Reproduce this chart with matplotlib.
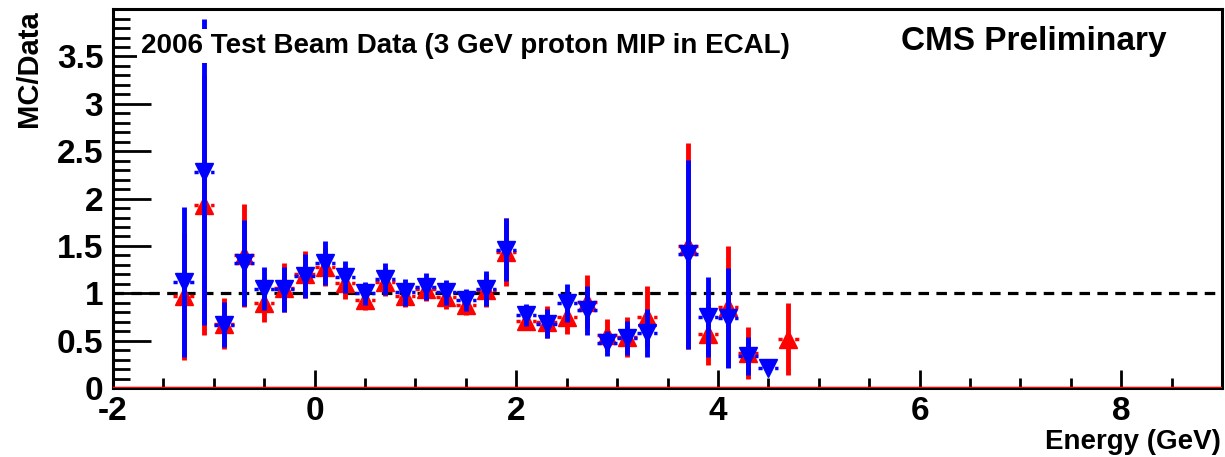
import numpy as np
import matplotlib
matplotlib.use("Agg")
import matplotlib.pyplot as plt
from matplotlib.ticker import MultipleLocator

plt.rcParams["font.family"] = ["Liberation Sans", "DejaVu Sans"]
plt.rcParams["font.weight"] = "bold"
plt.rcParams["axes.unicode_minus"] = False

# bin centres (GeV), bin half width 0.1
energy = [-1.3, -1.1, -0.9, -0.7, -0.5, -0.3, -0.1, 0.1, 0.3, 0.5, 0.7, 0.9,
          1.1, 1.3, 1.5, 1.7, 1.9, 2.1, 2.3, 2.5, 2.7, 2.9, 3.1, 3.3,
          3.7, 3.9, 4.1, 4.3, 4.5, 4.7]
half_width = 0.1

# red, up triangles
red_ratio = [0.97, 1.93, 0.68, 1.40, 0.90, 1.06, 1.20, 1.28, 1.11, 0.93, 1.12, 0.97,
             1.04, 0.96, 0.88, 1.03, 1.44, 0.71, 0.70, 0.75, 0.91, 0.56, 0.54, 0.75,
             1.50, 0.57, 0.86, 0.37, np.nan, 0.52]
red_err = [0.67, 1.37, 0.27, 0.54, 0.20, 0.26, 0.25, 0.20, 0.17, 0.11, 0.15, 0.12,
           0.12, 0.13, 0.11, 0.17, 0.36, 0.10, 0.17, 0.18, 0.28, 0.17, 0.21, 0.33,
           1.09, 0.33, 0.64, 0.27, np.nan, 0.38]

# blue, down triangles
blue_ratio = [1.12, 2.28, 0.67, 1.32, 1.05, 1.04, 1.18, 1.32, 1.17, 1.00, 1.15, 1.01,
              1.07, 1.01, 0.93, 1.05, 1.46, 0.77, 0.68, 0.90, 0.82, 0.47, 0.53, 0.58,
              1.41, 0.75, 0.74, 0.34, 0.21, np.nan]
blue_err = [0.79, 1.62, 0.24, 0.45, 0.23, 0.24, 0.23, 0.23, 0.17, 0.12, 0.17, 0.14,
            0.14, 0.13, 0.12, 0.18, 0.33, 0.12, 0.15, 0.20, 0.26, 0.13, 0.18, 0.25,
            1.00, 0.42, 0.53, 0.20, 0.02, np.nan]

fig = plt.figure(figsize=(12.25, 4.57), dpi=100)
ax = fig.add_axes([0.0922, 0.151, 0.9054, 0.829])


def draw_series(x, y, yerr, color, marker, z):
    x = np.asarray(x)
    y = np.asarray(y, dtype=float)
    yerr = np.asarray(yerr, dtype=float)
    ok = ~np.isnan(y)
    ax.vlines(x[ok], y[ok] - yerr[ok], y[ok] + yerr[ok], color=color, lw=3.5, zorder=z)
    ax.hlines(y[ok], x[ok] - half_width, x[ok] + half_width, color=color, lw=2.5,
              linestyles=(0, (1.2, 1.2)), zorder=z)
    ax.plot(x[ok], y[ok], ls="none", marker=marker, ms=12.5, color=color,
            mec=color, zorder=z + 0.5)


draw_series(energy, red_ratio, red_err, "#ff0000", "^", 3)
draw_series(energy, blue_ratio, blue_err, "#0000ff", "v", 4)

ax.axhline(1.0, color="black", lw=2.3, dashes=(3.3, 2.3), zorder=2)
ax.axhline(0.0, color="#ff0000", lw=2.5, zorder=5)

ax.set_xlim(-2, 9)
ax.set_ylim(0, 4.0)
ax.xaxis.set_major_locator(MultipleLocator(2))
ax.xaxis.set_minor_locator(MultipleLocator(0.5))
ax.set_yticks([0, 0.5, 1, 1.5, 2, 2.5, 3, 3.5])
ax.set_yticklabels(["0", "0.5", "1", "1.5", "2", "2.5", "3", "3.5"])
ax.yaxis.set_minor_locator(MultipleLocator(0.1))

ax.tick_params(axis="both", which="both", direction="in", top=False, right=False,
               width=2, labelsize=24)
ax.tick_params(axis="y", which="major", length=27, pad=7)
ax.tick_params(axis="y", which="minor", length=12)
ax.tick_params(axis="x", which="major", length=13, pad=6)
ax.tick_params(axis="x", which="minor", length=7)
for lab in ax.get_xticklabels() + ax.get_yticklabels():
    lab.set_fontweight("bold")
for sp in ax.spines.values():
    sp.set_linewidth(2.2)

ax.text(0.025, 0.902, "2006 Test Beam Data (3 GeV proton MIP in ECAL)",
        transform=ax.transAxes, fontsize=20, fontweight="bold", va="center",
        ha="left", zorder=10,
        bbox=dict(facecolor="white", edgecolor="none", pad=3))
ax.text(0.95, 0.915, "CMS Preliminary", transform=ax.transAxes, fontsize=24,
        fontweight="bold", va="center", ha="right", zorder=10)

fig.text(0.024, 0.978, "MC/Data", rotation=90, ha="center", va="top",
         fontsize=21, fontweight="bold")
fig.text(0.997, 0.004, "Energy (GeV)", ha="right", va="bottom",
         fontsize=20, fontweight="bold")

fig.savefig("out.png", dpi=100, facecolor="white")
